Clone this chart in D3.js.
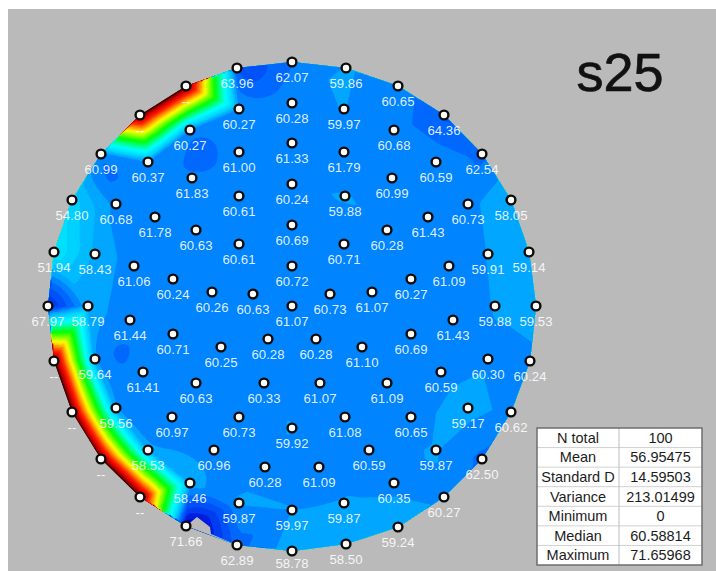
<!DOCTYPE html>
<html>
<head>
<meta charset="utf-8">
<script src="https://cdn.jsdelivr.net/npm/d3@7"></script>
<style>
  html, body { margin: 0; padding: 0; background: #fff; }
  svg { display: block; font-family: "Liberation Sans", Arial, sans-serif; }
  .site-label { fill: #fff; fill-opacity: 0.88; font-size: 13.2px; text-anchor: middle; }
  .table-text { fill: #1c1c1c; font-size: 14.5px; text-anchor: middle; }
</style>
</head>
<body>
<svg width="716" height="571"></svg>
<script>
// measurement sites in map units, centre of the wafer is 0,0 (y points up)
var siteX = [
  -55, 0, 54, 106, 152, 190, 219, 237, 244, 238, 219, 190, 152, 106, 54, 0, -55, -106, -152, -191, -220, -238, -244, -238, -220, -191, -152, -106,
  -53, 0, 52, 102, 144, 176, 196, 203, 196, 176, 144, 102, 52, 0, -53, -102, -144, -176, -197, -204, -197, -176, -144, -102,
  -53, 0, 52, 100, 136, 157, 161, 149, 119, 77, 27, -27, -78, -120, -149, -162, -158, -137, -100,
  0, 53, 95, 119, 119, 95, 53, 0, -53, -96, -119, -119, -96, -53,
  0, 52, 80, 70, 28, -28, -71, -80, -53,
  0, 38, 24, -24, -39, 0
];
var siteY = [
  238, 244, 238, 220, 191, 152, 106, 54, 0, -55, -106, -153, -191, -221, -238, -245, -239, -220, -191, -153, -106, -55, 0, 54, 106, 152, 191, 220,
  197, 203, 197, 176, 144, 102, 52, 0, -53, -102, -144, -177, -197, -204, -197, -177, -144, -102, -53, 0, 52, 102, 144, 176,
  154, 163, 154, 128, 89, 40, -14, -66, -111, -144, -161, -161, -144, -111, -66, -14, 40, 89, 128,
  122, 110, 76, 27, -28, -77, -111, -122, -111, -77, -28, 27, 76, 110,
  81, 62, 14, -41, -77, -77, -41, 14, 62,
  40, 12, -33, -33, 12, 0
];
// 0 means the site has no reading, it is labelled "--"
var siteValue = [
  63.96, 62.07, 59.86, 60.65, 64.36, 62.54, 58.05, 59.14, 59.53, 60.24, 60.62, 62.50, 60.27, 59.24, 58.50, 58.78, 62.89, 71.66, 0, 0, 0, 0, 67.97, 51.94, 54.80, 60.99, 0, 0,
  60.27, 60.28, 59.97, 60.68, 60.59, 60.73, 59.91, 59.88, 60.30, 59.17, 59.87, 60.35, 59.87, 59.97, 59.87, 58.46, 58.53, 59.56, 59.64, 58.79, 58.43, 60.68, 60.37, 60.27,
  61.00, 61.33, 61.79, 60.99, 61.43, 61.09, 61.43, 60.59, 60.65, 60.59, 61.09, 60.28, 60.96, 60.97, 61.41, 61.44, 61.06, 61.78, 61.83,
  60.24, 59.88, 60.28, 60.27, 60.69, 61.09, 61.08, 59.92, 60.73, 60.63, 60.71, 60.24, 60.63, 60.61,
  60.69, 60.71, 61.07, 61.10, 61.07, 60.33, 60.25, 60.26, 60.61,
  60.72, 60.73, 60.28, 60.28, 60.63, 61.07
];
// gap in the map next to the 71.66 site, surface ran over the scale there
var gapX = [-106, -95, -82, -81, -55];
var gapY = [-220, -211, -221, -228, -239];

var statNames = ['N total', 'Mean', 'Standard D', 'Variance', 'Minimum', 'Median', 'Maximum'];
var statValues = ['100', '56.95475', '14.59503', '213.01499', '0', '60.58814', '71.65968'];

var colorStops = [0, 3, 7, 12, 18, 24, 36, 48, 55, 59, 61, 63, 67, 71];
var colorRamp = ['#240000', '#8c0000', '#e00000', '#ff2000', '#ff9400', '#ffff00', '#00ff00', '#00ffff', '#00d2ff', '#00a6ff', '#0084ff', '#0068ff', '#003cf0', '#0000cc'];

var svg = d3.select('svg');
svg.append('rect').attr('width', 716).attr('height', 571).attr('fill', '#fff');
svg.append('rect').attr('x', 8).attr('y', 9).attr('width', 708).attr('height', 562).attr('fill', '#bababa');

var xScale = d3.scaleLinear().domain([-244, 244]).range([48, 536]);
var yScale = d3.scaleLinear().domain([244, -244]).range([62, 550]);
var colorScale = d3.scaleLinear().domain(colorStops).range(colorRamp).clamp(true);

var sites = siteX.map(function(x, i) { return {x: x, y: siteY[i], v: siteValue[i]}; });

// thin plate spline through the sites, the measured surface overshoots a bit next to the missing rim
function fitSpline() {
    var n = sites.length, size = n + 3;
    var A = d3.range(size).map(function() { return new Float64Array(size + 1); });
    sites.forEach(function(a, i) {
        sites.forEach(function(b, j) {
            var dx = (a.x - b.x) / 244, dy = (a.y - b.y) / 244, r2 = dx * dx + dy * dy;
            A[i][j] = r2 > 0 ? r2 * Math.log(r2) : 0;
        });
        A[i][n] = A[n][i] = 1;
        A[i][n + 1] = A[n + 1][i] = a.x / 244;
        A[i][n + 2] = A[n + 2][i] = a.y / 244;
        A[i][size] = a.v;
    });
    for (var c = 0; c < size; c++) {
        var p = c;
        for (var r = c + 1; r < size; r++) if (Math.abs(A[r][c]) > Math.abs(A[p][c])) p = r;
        var t = A[c]; A[c] = A[p]; A[p] = t;
        for (r = c + 1; r < size; r++) {
            var f = A[r][c] / A[c][c];
            if (f === 0) continue;
            for (var k = c; k <= size; k++) A[r][k] -= f * A[c][k];
        }
    }
    var w = new Float64Array(size);
    for (c = size - 1; c >= 0; c--) {
        var s = A[c][size];
        for (k = c + 1; k < size; k++) s -= A[c][k] * w[k];
        w[c] = s / A[c][c];
    }
    return function(x, y) {
        var z = w[n] + w[n + 1] * x / 244 + w[n + 2] * y / 244;
        for (var i = 0; i < n; i++) {
            var dx = (x - sites[i].x) / 244, dy = (y - sites[i].y) / 244, r2 = dx * dx + dy * dy;
            if (r2 > 0) z += w[i] * r2 * Math.log(r2);
        }
        return z;
    };
}

// sample the surface on a grid: linear over the delaunay triangles, plus part of the spline overshoot
var step = 2, gridMin = -250, gridN = 251;
var spline = fitSpline();
var splineMix = 0.27;
var grid = new Float64Array(gridN * gridN);
var filled = new Uint8Array(gridN * gridN);
var delaunay = d3.Delaunay.from(sites, function(d) { return d.x; }, function(d) { return d.y; });
var tri = delaunay.triangles;
for (var t = 0; t < tri.length; t += 3) {
    var a = sites[tri[t]], b = sites[tri[t + 1]], c = sites[tri[t + 2]];
    var det = (b.y - c.y) * (a.x - c.x) + (c.x - b.x) * (a.y - c.y);
    var i0 = Math.floor((d3.min([a.x, b.x, c.x]) - gridMin) / step), i1 = Math.ceil((d3.max([a.x, b.x, c.x]) - gridMin) / step);
    var j0 = Math.floor((d3.min([a.y, b.y, c.y]) - gridMin) / step), j1 = Math.ceil((d3.max([a.y, b.y, c.y]) - gridMin) / step);
    for (var j = j0; j <= j1; j++) {
        for (var i = i0; i <= i1; i++) {
            var px = gridMin + i * step, py = gridMin + j * step;
            var l1 = ((b.y - c.y) * (px - c.x) + (c.x - b.x) * (py - c.y)) / det;
            var l2 = ((c.y - a.y) * (px - c.x) + (a.x - c.x) * (py - c.y)) / det;
            var l3 = 1 - l1 - l2;
            if (l1 < -1e-9 || l2 < -1e-9 || l3 < -1e-9) continue;
            grid[j * gridN + i] = l1 * a.v + l2 * b.v + l3 * c.v;
            filled[j * gridN + i] = 1;
        }
    }
}
for (var q = 0; q < grid.length; q++) {
    var gx = gridMin + (q % gridN) * step, gy = gridMin + Math.floor(q / gridN) * step;
    if (!filled[q]) grid[q] = sites[delaunay.find(gx, gy)].v;
    else grid[q] += splineMix * Math.max(0, spline(gx, gy) - grid[q]);
}

var thresholds = d3.range(-2, 74, 2);
var contours = d3.contours().size([gridN, gridN]).thresholds(thresholds).smooth(true)(grid);
var gridPath = d3.geoPath().projection(d3.geoTransform({
    point: function(i, j) {
        this.stream.point(xScale(gridMin + (i - 0.5) * step), yScale(gridMin + (j - 0.5) * step));
    }
}));

// map is cut along the hull of the outer sites
var hull = d3.polygonHull(sites.map(function(d) { return [xScale(d.x), yScale(d.y)]; }));
svg.append('clipPath').attr('id', 'hull-clip')
    .append('path').attr('d', 'M' + hull.join('L') + 'Z');

svg.append('g').attr('clip-path', 'url(#hull-clip)')
    .selectAll('path')
    .data(contours)
    .enter()
    .append('path')
    .attr('d', gridPath)
    .attr('fill', function(d) { return colorScale(d.value + 1); });

svg.append('path')
    .datum(gapX.map(function(x, i) { return [xScale(x), yScale(gapY[i])]; }))
    .attr('d', d3.line())
    .attr('fill', '#bababa');

svg.append('text')
    .attr('x', 620).attr('y', 91)
    .attr('text-anchor', 'middle')
    .attr('font-size', 54)
    .attr('fill', '#111')
    .attr('stroke', '#111')
    .attr('stroke-width', 0.7)
    .text('s25');

svg.selectAll('.site-label')
    .data(sites)
    .enter()
    .append('text')
    .attr('class', 'site-label')
    .attr('x', function(d) { return xScale(d.x); })
    .attr('y', function(d) { return Math.min(yScale(d.y) + 19.5, 568); })
    .text(function(d) { return d.v === 0 ? '--' : d.v.toFixed(2); });

svg.selectAll('.site')
    .data(sites)
    .enter()
    .append('circle')
    .attr('class', 'site')
    .attr('cx', function(d) { return xScale(d.x); })
    .attr('cy', function(d) { return yScale(d.y); })
    .attr('r', 4.4)
    .attr('fill', '#fffdf6')
    .attr('stroke', '#0b0b0b')
    .attr('stroke-width', 2.4);

// statistics table
var tableLeft = 537, tableRight = 702, tableSplit = 619;
var rowScale = d3.scaleBand().domain(statNames).range([428, 565]);
var table = svg.append('g');
table.append('rect')
    .attr('x', tableLeft).attr('y', 428)
    .attr('width', tableRight - tableLeft).attr('height', 137)
    .attr('fill', '#fff');
table.selectAll('.row-line')
    .data(statNames.slice(1))
    .enter()
    .append('line')
    .attr('x1', tableLeft).attr('x2', tableRight)
    .attr('y1', function(d) { return rowScale(d); })
    .attr('y2', function(d) { return rowScale(d); })
    .attr('stroke', '#d0d0d0');
table.append('line')
    .attr('x1', tableSplit).attr('x2', tableSplit)
    .attr('y1', 428).attr('y2', 565)
    .attr('stroke', '#bdbdbd');
table.append('rect')
    .attr('x', tableLeft).attr('y', 428)
    .attr('width', tableRight - tableLeft).attr('height', 137)
    .attr('fill', 'none')
    .attr('stroke', '#6e6e6e')
    .attr('stroke-width', 1.5);
table.selectAll('.stat-name')
    .data(statNames)
    .enter()
    .append('text')
    .attr('class', 'table-text stat-name')
    .attr('x', (tableLeft + tableSplit) / 2)
    .attr('y', function(d) { return rowScale(d) + rowScale.bandwidth() / 2 + 5; })
    .text(function(d) { return d; });
table.selectAll('.stat-value')
    .data(statValues)
    .enter()
    .append('text')
    .attr('class', 'table-text stat-value')
    .attr('x', (tableSplit + tableRight) / 2)
    .attr('y', function(d, i) { return rowScale(statNames[i]) + rowScale.bandwidth() / 2 + 5; })
    .text(function(d) { return d; });
</script>
</body>
</html>
